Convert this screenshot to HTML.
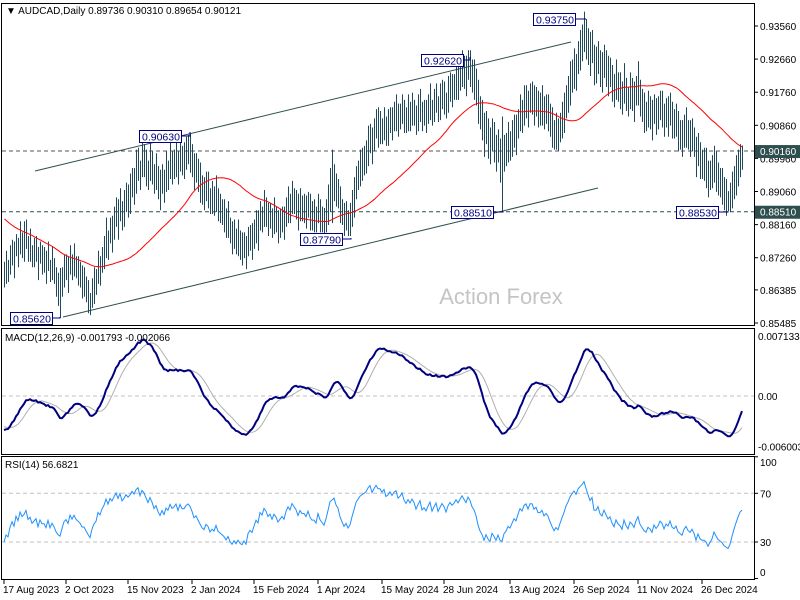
<!DOCTYPE html>
<html><head><meta charset="utf-8"><style>
body{margin:0;background:#fff;}
svg{display:block;font-family:"Liberation Sans",Arial,sans-serif;}
</style></head><body>
<svg id="chart" width="800" height="600" viewBox="0 0 800 600" xmlns="http://www.w3.org/2000/svg">
<rect x="0" y="0" width="800" height="600" fill="#fff"/>
<g id="frames" fill="none" stroke="#000" stroke-width="1">
<rect x="1.5" y="3.5" width="753" height="322"/>
<rect x="1.5" y="328.5" width="753" height="126"/>
<rect x="1.5" y="456.5" width="753" height="123"/>
</g>
<g id="grid"></g>
<g id="trend" stroke="#2f4f4f" stroke-width="1">
<line x1="35" y1="171" x2="571" y2="42"/>
<line x1="63" y1="317" x2="598" y2="188"/>
</g>
<text x="501" y="304" text-anchor="middle" font-size="22" fill="#c4c4c4">Action Forex</text>
<g id="bars"></g>
<g id="ma"></g>
<g id="macd"></g>
<g id="rsi"></g>
<g id="annots"></g>
<g id="axes" font-size="10" fill="#000"></g>
<text x="6" y="14" font-size="10">▼ AUDCAD,Daily  0.89736 0.90310 0.89654 0.90121</text>
<text x="5" y="341" font-size="10">MACD(12,26,9) -0.001793 -0.002066</text>
<text x="5" y="468" font-size="10">RSI(14) 56.6821</text>
</svg>
<script>
const prior=[8930,8940,8920,8950,8930,8910,8920,8900,8890,8910,8900,8880,8890,8870,8880,8900,8890,8870,8860,8880,8870,8850,8860,8840,8850,8870,8860,8840,8830,8850,8840,8820,8830,8810,8790,8800,8780,8770,8790,8760,8750,8770,8740,8730,8750,8720,8710,8730,8700,8690];
const mids=[8680,8700,8690,8720,8740,8720,8760,8740,8780,8760,
8770,8790,8750,8760,8730,8740,8750,8710,8740,8720,
8720,8700,8730,8690,8710,8690,8660,8640,8630,8660,
8690,8700,8680,8720,8700,8720,8700,8690,8680,8660,
8660,8640,8620,8600,8630,8650,8660,8700,8690,8720,
8740,8780,8760,8800,8790,8820,8850,8830,8870,8840,
8860,8890,8880,8900,8930,8920,8960,8980,8950,9000,
8990,8970,8950,8990,8970,8940,8960,8930,8910,8940,
8920,8960,8950,8990,8970,8980,9000,8970,9010,8990,
8990,9010,9020,9010,8990,8960,8970,8950,8930,8910,
8900,8920,8910,8880,8890,8880,8900,8870,8860,8850,
8840,8820,8830,8800,8780,8790,8770,8780,8760,8750,
8760,8740,8770,8780,8770,8790,8810,8800,8840,8830,
8860,8850,8830,8840,8820,8840,8830,8810,8820,8830,
8820,8850,8870,8860,8890,8880,8870,8850,8870,8860,
8860,8850,8870,8850,8840,8840,8830,8860,8840,8830,
8820,8840,8870,8910,8920,8930,8910,8900,8870,8850,
8830,8840,8820,8830,8860,8890,8930,8950,8970,8980,
8990,9000,9030,9050,9030,9060,9090,9080,9080,9070,
9090,9070,9080,9100,9090,9110,9120,9100,9110,9130,
9110,9100,9120,9110,9130,9120,9100,9120,9140,9110,
9120,9110,9130,9150,9120,9140,9160,9130,9150,9170,
9160,9140,9170,9190,9180,9190,9210,9200,9220,9240,
9230,9220,9250,9240,9220,9210,9190,9150,9120,9100,
9060,9080,9050,9030,9060,9040,9010,9030,8990,8980,
9010,9020,9040,9030,9050,9070,9060,9090,9120,9110,
9140,9150,9130,9160,9160,9140,9150,9130,9130,9140,
9120,9130,9120,9100,9080,9060,9070,9060,9080,9100,
9120,9150,9170,9200,9220,9240,9230,9270,9290,9310,
9340,9320,9300,9280,9300,9250,9250,9270,9240,9230,
9260,9240,9220,9230,9200,9180,9210,9190,9180,9160,
9200,9170,9150,9180,9170,9150,9180,9200,9160,9140,
9120,9110,9130,9120,9100,9130,9110,9120,9140,9130,
9100,9120,9110,9130,9100,9090,9100,9070,9060,9050,
9070,9080,9060,9050,9060,9040,9000,9020,8990,8980,
8980,8970,8940,8950,8960,8980,8960,8940,8930,8920,
8900,8890,8880,8890,8910,8930,8950,8970,8990,8998];
const rngs=[70,90,60,80,70,100,60,80,90,70,
110,80,70,90,60,80,70,90,60,80,
70,90,80,60,90,70,80,90,136,80,
90,70,100,80,70,90,60,80,70,90,
80,70,90,60,80,100,70,90,80,70,
90,110,80,70,100,90,80,110,90,80,
100,80,90,110,80,100,120,90,80,110,
90,100,80,110,90,80,100,90,110,80,
90,110,80,100,90,80,110,90,100,80,
100,90,80,106,90,100,80,90,110,80,
90,80,100,70,90,80,100,90,80,70,
90,80,100,70,90,80,70,100,80,90,
70,90,80,70,100,80,90,110,80,70,
100,80,90,70,80,100,70,90,80,70,
90,80,100,80,90,70,80,100,90,70,
80,90,70,100,80,90,70,80,90,70,
82,90,110,120,200,100,90,80,100,70,
90,80,70,90,100,110,90,80,100,90,
80,90,110,80,100,90,80,110,90,70,
90,80,100,70,90,80,100,90,70,80,
90,70,100,80,90,70,80,100,90,80,
70,90,80,100,70,90,80,70,100,80,
90,70,100,80,90,70,110,90,80,100,
90,110,80,100,90,110,100,120,90,110,
120,90,110,100,90,110,100,90,120,260,
100,90,110,80,100,90,110,80,100,90,
110,90,100,80,90,110,80,100,90,110,
90,80,100,90,110,80,100,90,80,100,
110,90,100,120,90,110,100,90,110,100,
110,110,100,120,90,110,100,90,100,110,
90,100,110,80,100,90,110,80,100,90,
110,90,80,100,90,110,80,120,100,90,
110,80,100,90,110,80,100,90,80,100,
90,80,110,90,100,80,90,110,80,100,
90,110,80,100,90,80,110,90,100,80,
90,110,100,80,90,100,110,90,80,100,
90,100,54,80,100,90,110,100,90,66];
const priceTicks=["0.93560","0.92660","0.91760","0.90860","0.89960","0.89060","0.88160","0.87260","0.86385","0.85485"];
const dateLabels=["17 Aug 2023","2 Oct 2023","15 Nov 2023","2 Jan 2024","15 Feb 2024","1 Apr 2024","15 May 2024","28 Jun 2024","13 Aug 2024","26 Sep 2024","11 Nov 2024","26 Dec 2024"];
const dateIdx=[0,31,62,94,125,157,189,220,253,285,317,349];
const macdTicks=["0.007133","0.00","-0.006003"];
const macdTickVals=[0.007133,0,-0.006003];
const rsiTicks=[100,70,30,0];
const levels=[0.90160,0.88510];

const NS="http://www.w3.org/2000/svg";
function mk(tag,attrs,parent){const e=document.createElementNS(NS,tag);for(const k in attrs)e.setAttribute(k,attrs[k]);parent.appendChild(e);return e;}
const X=i=>4+i*2;
const YP=p=>26+(0.9356-p)*3678;
const YM=v=>396-v*8412;
const YR=r=>542-(r-30)*1.2175;

// levels
const grid=document.getElementById('grid');
levels.forEach((p,k)=>{
 const l=mk('line',{x1:2,x2:754,y1:YP(p),y2:YP(p),stroke:k==0?'#555':'#2f4f4f','stroke-dasharray':'4,3'},grid);
 
 
});
[0].forEach(v=>{const l=mk('line',{x1:2,x2:754,y1:YM(v),y2:YM(v),stroke:'#c0c0c0','stroke-dasharray':'4,3'},grid);
 
 });
[70,30].forEach(v=>{const l=mk('line',{x1:2,x2:754,y1:YR(v),y2:YR(v),stroke:'#c0c0c0','stroke-dasharray':'4,3'},grid);
 
 });

// bars
const bars=document.getElementById('bars');
mids.forEach((m,i)=>{
 const hi=(m+rngs[i]/2)/1e4, lo=(m-rngs[i]/2)/1e4;
 const b=mk('line',{x1:X(i)+.5,x2:X(i)+.5,y1:YP(hi),y2:YP(lo),stroke:'#1f4a5c','stroke-width':1},bars);
 
 
});

// MA 50
const all=prior.concat(mids).map(v=>v/1e4);
const P=prior.length;
let pts=[];
for(let i=0;i<mids.length;i++){let s=0;for(let j=P+i-49;j<=P+i;j++)s+=all[j];pts.push(X(i)+.5+','+YP(s/50).toFixed(1));}
const ma=mk('polyline',{points:pts.join(' '),fill:'none',stroke:'#ff0000','stroke-width':1},document.getElementById('ma'));



// MACD
let e12=all[0],e26=all[0];const macd=[];
for(let j=0;j<all.length;j++){e12+= (all[j]-e12)*2/13;e26+=(all[j]-e26)*2/27;macd.push(e12-e26);}
const sig=macd.map((v,j)=>{let s=0,n=0;for(let k=Math.max(0,j-8);k<=j;k++){s+=macd[k];n++;}return s/n;});
let mp=[],sp=[];
for(let i=0;i<mids.length;i++){mp.push(X(i)+','+YM(macd[P+i]).toFixed(1));sp.push(X(i)+','+YM(sig[P+i]).toFixed(1));}
const mg=document.getElementById('macd');
const sl=mk('polyline',{points:sp.join(' '),fill:'none',stroke:'#b0b0b0','stroke-width':1},mg);


const ml=mk('polyline',{points:mp.join(' '),fill:'none',stroke:'#000080','stroke-width':2},mg);



// RSI
let ag=0,al=0;const rsi=[];
for(let j=1;j<all.length;j++){const d=all[j]-all[j-1];const g=Math.max(d,0),l=Math.max(-d,0);
 if(j<=14){ag+=g/14;al+=l/14;}else{ag=(ag*13+g)/14;al=(al*13+l)/14;}
 rsi[j]=al==0?100:100-100/(1+ag/al);}
let rp=[];for(let i=0;i<mids.length;i++)rp.push(X(i)+','+YR(rsi[P+i]).toFixed(1));
const rl=mk('polyline',{points:rp.join(' '),fill:'none',stroke:'#1e90ff','stroke-width':1},document.getElementById('rsi'));



// axes
const ax=document.getElementById('axes');
priceTicks.forEach(t=>{const y=YP(parseFloat(t));
 mk('line',{x1:754,x2:758,y1:y,y2:y,stroke:'#000'},ax);
 const tx=mk('text',{x:760,y:y+4},ax);tx.textContent=t;
 
 });
macdTicks.forEach((t,k)=>{const y=YM(macdTickVals[k]);
 const tx=mk('text',{x:758,y:y+4},ax);tx.textContent=t;
 
 });
rsiTicks.forEach(v=>{const y=Math.min(Math.max(YR(v),462),572);
 mk('line',{x1:754,x2:758,y1:YR(v),y2:YR(v),stroke:'#000'},ax);
 const tx=mk('text',{x:760,y:y+4},ax);tx.textContent=v;
 
 });
dateLabels.forEach((d,k)=>{const x=X(dateIdx[k]);
 mk('line',{x1:x,x2:x,y1:580,y2:584,stroke:'#000'},ax);
 const tx=mk('text',{x:x-1,y:593},ax);tx.textContent=d;
 
 });
// current level boxes
levels.forEach(p=>{const y=YP(p);
 const r=mk('rect',{x:755,y:y-6,width:45,height:13,fill:'#2f4f4f'},ax);
 
 
 const tx=mk('text',{x:760,y:y+4,fill:'#fff'},ax);tx.textContent=p.toFixed(5);
 
 });

// annotations
const an=document.getElementById('annots');
const labs=[["0.85620",10,312,60,317],["0.90630",139,130,190,132],["0.87790",300,233,351,238],["0.92620",421,54,470,57],["0.88510",451,206,503,211],["0.93750",533,13,586,19],["0.88530",676,206,728,211]];
labs.forEach(a=>{
 const ln=mk('polyline',{points:`${a[1]+42},${a[2]+6} ${a[3]},${a[2]+6} ${a[3]},${a[4]}`,fill:'none',stroke:'#000080'},an);
 
 
 const r=mk('rect',{x:a[1]+.5,y:a[2]+.5,width:42,height:12,fill:'#fff',stroke:'#000080'},an);
 
 
 const t=mk('text',{x:a[1]+3,y:a[2]+10.5,'font-size':10.5,fill:'#000080'},an);t.textContent=a[0];
 
 
});
</script>
</body></html>
